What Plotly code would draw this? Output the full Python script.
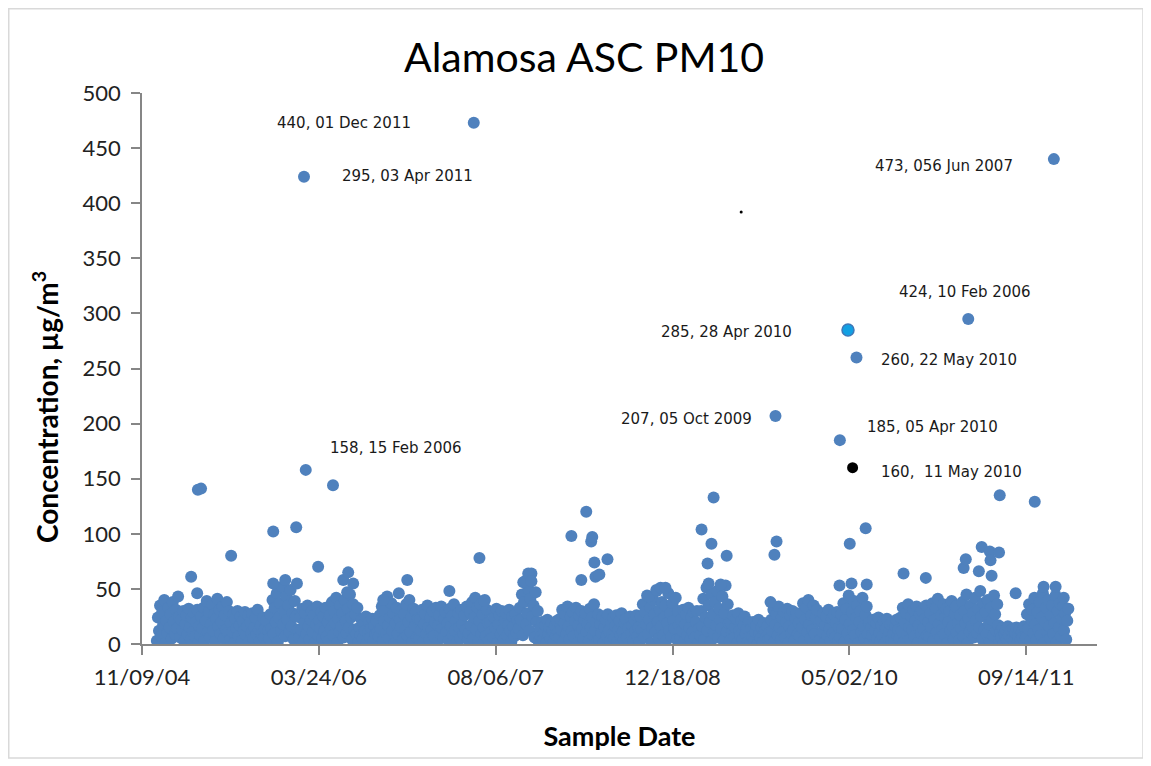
import pandas as pd
import plotly.graph_objects as go

# ---------------- data ----------------
title = "Alamosa ASC PM10"
x_title = "Sample Date"
y_title = "Concentration, µg/m<sup>3</sup>"

# routine samples (every 3rd day from 21 Dec 2004)
routine_start = "2004-12-21"
routine_step_days = 3
routine_values = [
    3, 24, 12, 35, 7, 29, 18, 40, 1, 21, 10, 33, 15, 27, 5, 38, 20, 9, 31, 14, 43, 25,
    6, 22, 13, 30, 2, 18, 26, 9, 32, 15, 4, 24, 11, 28, 7, 20, 31, 1, 16,
    8, 25, 14, 33, 3, 21, 39, 11, 29, 6, 18, 36, 12, 27, 2, 23, 41, 16, 31, 9, 20, 34, 5, 26, 13, 38, 10, 30,
    4, 19, 11, 27, 1, 23, 14, 30, 7, 17, 25, 3, 21, 12, 29, 8, 16, 26, 2, 20, 10, 28, 5, 15, 24, 9, 31, 13,
    3, 17, 9, 24, 6, 14, 21, 1, 12,
    5, 27, 14, 40, 9, 33, 20, 46, 2, 24, 37, 12, 52, 18, 30, 7, 43, 22, 35, 11, 49, 16, 28, 4, 39, 25, 55, 13,
    6, 24, 13, 32, 2, 19, 28, 9, 35, 16, 4, 22, 30, 11, 26, 1, 18, 34, 8, 21, 14, 29, 5, 25, 12, 33, 7, 20,
    3, 26, 14, 38, 8, 30, 19, 42, 1, 23, 11, 35, 16, 28, 6, 40, 21, 10, 32, 15, 45, 24, 4, 36, 13, 27, 9, 33,
    2, 15, 8, 22, 5, 18, 12, 25, 1, 10, 20, 6, 14, 23, 3, 17, 9, 21, 11,
    7, 26, 14, 34, 3, 21, 30, 10, 43, 17, 5, 24, 37, 12, 28, 1, 19, 33, 9, 46, 22, 15, 31, 4, 27, 13, 36, 8,
    20, 40, 11, 25, 2, 32, 16, 29, 6, 23,
    5, 22, 12, 31, 2, 18, 27, 9, 35, 15, 4, 24, 13, 30, 7, 20, 33, 1, 17, 26, 10, 34, 14, 6, 23, 29, 11, 19,
    3, 32, 16, 25, 8, 36, 12, 21, 2, 28, 15, 5, 31, 18, 9, 26, 13, 34, 4,
    10, 29, 17, 38, 5, 24, 42, 13, 33, 2, 21, 36, 9, 27, 15, 40, 7, 31, 19,
    3, 20, 11, 29, 6, 24, 15, 32, 1, 18, 26, 9, 30, 13, 4, 22, 28, 8, 17, 31, 12, 2, 25, 16, 7, 27, 10, 21,
    14, 33, 22, 45, 8, 38, 57, 18, 28, 50, 12, 41, 64, 25, 35, 6, 47, 20, 30,
    2, 14, 7, 20, 4, 11, 17, 1, 22, 9, 15, 5, 19, 12, 3, 16, 8, 21, 10,
    6, 23, 13, 31, 2, 19, 27, 9, 34, 16, 4, 25, 12, 29, 7, 21, 33, 1, 17, 26, 10, 30, 14, 5, 22, 28, 11, 18,
    3, 32, 15, 24, 8, 36, 12, 20, 2, 27,
    4, 18, 10, 25, 1, 15, 22, 7, 27, 12, 3, 20, 9, 24, 5, 16, 26, 2, 13, 21, 8, 28, 11, 4, 19, 23, 6, 14,
    1, 25, 10, 17, 3, 22, 12, 26, 7, 15,
    2, 25, 13, 36, 6, 29, 18, 44, 9, 22, 33, 1, 15, 40, 27, 11, 48, 20, 5, 31, 16, 38, 8, 24, 35, 3, 19, 46,
    12, 28, 7, 37, 21, 14, 42, 4, 30, 17,
    5, 22, 12, 31, 2, 18, 27, 8, 33, 15, 4, 24, 11, 29, 6, 20, 30, 1, 14,
    8, 30, 16, 41, 4, 24, 51, 12, 35, 20, 2, 45, 27, 10, 38, 17, 48, 6, 32, 22, 14, 43, 3, 28, 53, 11, 36, 19,
    3, 19, 10, 26, 6, 15, 23, 1, 28, 12, 8, 21, 4, 17, 25, 9, 14, 2, 20,
    1, 14, 7, 20, 3, 11, 17, 0, 22, 9, 5, 15, 2, 19, 12, 6, 16, 4, 10,
    5, 22, 12, 31, 2, 18, 27, 8, 34, 15, 4, 24, 11, 29, 6, 20, 32, 1, 16, 26, 10, 30, 13, 3, 23, 28, 9, 19,
    7, 28, 15, 37, 3, 22, 33, 11, 40, 18, 5, 26, 13, 35, 9, 24, 31, 1, 20,
    4, 21, 11, 28, 1, 17, 25, 8, 31, 14, 3, 23, 10, 27, 6, 19, 29, 2, 15,
    6, 27, 14, 37, 2, 22, 32, 10, 44, 18, 4, 29, 13, 39, 8, 24, 35, 1, 20, 30, 11, 42, 16, 5, 26, 34, 9, 19,
    2, 15, 8, 22, 0, 12, 19, 5, 24, 10, 3, 17, 7, 21, 1, 14, 23, 6, 11, 18, 4, 20, 9, 2, 16, 22, 7, 13,
    5, 24, 12, 33, 2, 19, 28, 9, 36, 15, 4, 25, 13, 31, 7, 21, 34, 1, 17, 27, 10, 30, 14, 3, 23, 35, 8, 20,
    7, 28, 15, 37, 3, 22, 33, 11, 41, 18, 5, 26, 13, 36, 9, 24, 32, 1, 20, 30, 12, 39, 16, 4, 27, 34, 10, 19,
    3, 26, 14, 38, 7, 30, 19, 45, 1, 23, 11, 35, 16, 28, 6, 42, 21, 10, 32, 15, 48, 25, 4, 37, 13, 29, 9, 40,
    18, 2, 33, 22, 8, 44, 27, 12, 36, 17,
    2, 11, 6, 15, 1, 9, 13, 4, 16, 8, 0, 12, 5, 14, 3, 10, 15, 1, 7, 13, 4, 11, 6, 16, 2,
    6, 27, 14, 36, 3, 22, 31, 10, 42, 18, 4, 29, 13, 38, 8, 24, 46, 1, 20, 33, 11, 40, 16, 5, 26, 35, 9, 19,
    44, 2, 30, 15, 37, 7, 23, 34, 12, 28, 4, 21, 32,
]

# elevated samples
high_dates = [
    "2005-03-28", "2005-04-14", "2005-04-16", "2005-04-25", "2005-07-19",
    "2005-11-15", "2005-11-15", "2005-12-19", "2006-01-19", "2006-02-10",
    "2006-02-15", "2006-03-22", "2006-05-03", "2006-06-01", "2006-06-12",
    "2006-06-15", "2006-06-29", "2006-09-22", "2006-11-29", "2007-03-28",
    "2007-06-05", "2007-06-21", "2007-07-05", "2007-10-23", "2007-11-06",
    "2007-11-15", "2008-03-07", "2008-04-04", "2008-04-18", "2008-05-02",
    "2008-05-05", "2008-05-11", "2008-05-14", "2008-05-25", "2008-06-17",
    "2008-10-11", "2008-11-02", "2008-11-14", "2008-11-28", "2009-03-10",
    "2009-03-27", "2009-03-30", "2009-04-07", "2009-04-13", "2009-05-03",
    "2009-05-20", "2009-09-21", "2009-10-02", "2009-10-05", "2009-10-08",
    "2010-04-04", "2010-04-05", "2010-05-03", "2010-05-08", "2010-05-22",
    "2010-06-17", "2010-06-20", "2010-10-02", "2010-12-04", "2011-03-21",
    "2011-03-27", "2011-04-03", "2011-05-03", "2011-05-11", "2011-06-03",
    "2011-06-05", "2011-06-08", "2011-06-29", "2011-07-01", "2011-08-15",
    "2011-10-08", "2011-11-02", "2011-12-01", "2011-12-06", "2011-12-29",
]
high_values = [
    61, 46, 140, 141, 80,
    102, 55, 58, 106, 424,
    158, 70, 144, 58, 47,
    65, 55, 40, 58, 48,
    473, 78, 39, 56, 64,
    57, 98, 58, 120, 93,
    97, 74, 61, 63, 77,
    43, 49, 51, 51, 104,
    73, 55, 91, 133, 54,
    80, 38, 81, 207, 93,
    53, 185, 91, 55, 260,
    105, 54, 64, 60, 69,
    77, 295, 66, 88, 84,
    76, 62, 83, 135, 46,
    129, 52, 440, 52, 42,
]

# specially formatted samples
cyan_dates, cyan_values = ["2010-04-28"], [285]
black_dates, black_values = ["2010-05-11"], [160]
speck_dates, speck_values = ["2009-06-30"], [392]

# data labels (text, anchor date, anchor value)
label_texts = [
    "440, 01 Dec 2011", "295, 03 Apr 2011", "473, 056 Jun 2007",
    "424, 10 Feb 2006", "285, 28 Apr 2010", "260, 22 May 2010",
    "207, 05 Oct 2009", "185, 05 Apr 2010", "160,  11 May 2010",
    "158, 15 Feb 2006",
]
label_dates = [
    "2006-06-04", "2006-11-30", "2011-01-25",
    "2011-03-25", "2009-05-19", "2011-02-08",
    "2009-01-25", "2010-12-23", "2011-02-15",
    "2006-10-27",
]
label_values = [473, 425, 434, 319, 283, 258, 204, 197, 156, 178]

# axes
x_tick_dates = ["2004-11-09", "2006-03-24", "2007-08-06", "2008-12-18", "2010-05-02", "2011-09-14"]
x_tick_labels = ["11/09/04", "03/24/06", "08/06/07", "12/18/08", "05/02/10", "09/14/11"]
x_range = ["2004-11-09", "2012-04-01"]
y_ticks = [0, 50, 100, 150, 200, 250, 300, 350, 400, 450, 500]

# ---------------- figure ----------------
BLUE = "#4F81BD"
FONT = "Lato"
MSIZE = 12

# page body has an 8px margin: figure is 1143x758 and starts at (8, 8)
FW, FH = 1143, 758
L, R, T, B = 134, 1089, 85, 636       # plot area in figure pixels
W, H = R - L, B - T

routine_dates = pd.date_range(routine_start, periods=len(routine_values),
                              freq=f"{routine_step_days}D")

fig = go.Figure()
fig.add_trace(go.Scatter(x=routine_dates, y=routine_values, mode="markers",
                         marker=dict(size=MSIZE, color=BLUE)))
fig.add_trace(go.Scatter(x=pd.to_datetime(high_dates), y=high_values, mode="markers",
                         marker=dict(size=MSIZE, color=BLUE)))
fig.add_trace(go.Scatter(x=pd.to_datetime(cyan_dates), y=cyan_values, mode="markers",
                         marker=dict(size=MSIZE, color="#12A0E3",
                                     line=dict(color="#3E78B8", width=1.5))))
fig.add_trace(go.Scatter(x=pd.to_datetime(black_dates), y=black_values, mode="markers",
                         marker=dict(size=11, color="#000000")))
fig.add_trace(go.Scatter(x=pd.to_datetime(speck_dates), y=speck_values, mode="markers",
                         marker=dict(size=3, color="#000000")))

for t, d, v in zip(label_texts, label_dates, label_values):
    fig.add_annotation(x=d, y=v, text=t, showarrow=False, xanchor="center",
                       yanchor="middle",
                       font=dict(family="DejaVu Sans", size=15, color="#1a1a1a"))

# y axis title as a rotated annotation (centred where the reference has it)
fig.add_annotation(xref="paper", yref="paper",
                   x=(37 - L) / W, y=(B - 399) / H, text=f"<b>{y_title}</b>",
                   textangle=-90, showarrow=False, xanchor="center", yanchor="middle",
                   font=dict(family=FONT, size=28, color="#000000"))

# chart-area border
fig.add_shape(type="rect", xref="paper", yref="paper",
              x0=(0.75 - L) / W, x1=(1135 - L) / W,
              y0=(B - 750) / H, y1=(B - 0.75) / H,
              line=dict(color="#D9D9D9", width=1.5), fillcolor="rgba(0,0,0,0)")

axis_line = dict(showline=True, linecolor="#868686", linewidth=1.5,
                 ticks="outside", ticklen=9, tickcolor="#868686", tickwidth=1.5,
                 showgrid=False, zeroline=False)

fig.update_layout(
    width=FW, height=FH,
    margin=dict(l=L, r=FW - R, t=T, b=FH - B),
    paper_bgcolor="white", plot_bgcolor="white",
    showlegend=False,
    title=dict(text=title, x=576 / FW, xref="container",
               xanchor="center", y=1 - 50 / FH, yanchor="middle",
               font=dict(family=FONT, size=41, color="#000000")),
    xaxis=dict(type="date", range=x_range, tickvals=x_tick_dates,
               ticktext=x_tick_labels,
               tickfont=dict(family=FONT, size=22, color="#222222"),
               ticklabelstandoff=4,
               title=dict(text=x_title, standoff=38,
                          font=dict(family=FONT, size=27, color="#000000",
                                    weight="bold")),
               **axis_line),
    yaxis=dict(range=[0, 500], tickvals=y_ticks,
               tickfont=dict(family=FONT, size=22, color="#222222"),
               ticklabelstandoff=6,
               **axis_line),
)

fig.write_html("out.html")
